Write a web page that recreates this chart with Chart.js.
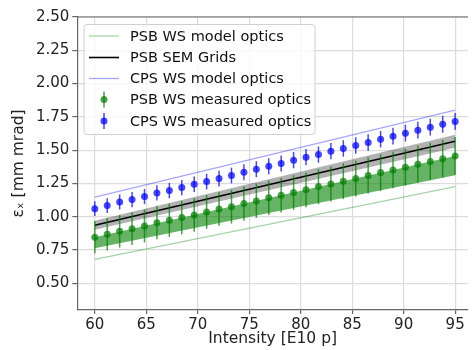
<!DOCTYPE html>
<html><head><meta charset="utf-8">
<script src="https://cdn.jsdelivr.net/npm/chart.js@4/dist/chart.umd.min.js"></script>
<style>html,body{margin:0;padding:0;background:#fff}canvas{display:block}</style>
</head><body>
<canvas id="c" width="472" height="350" style="width:472px;height:350px"></canvas>
<script>
// Intensity values of the measurement points [E10 p]
const intensity = [60, 61.207, 62.414, 63.621, 64.828, 66.034, 67.241, 68.448, 69.655, 70.862,
  72.069, 73.276, 74.483, 75.690, 76.897, 78.103, 79.310, 80.517, 81.724, 82.931,
  84.138, 85.345, 86.552, 87.759, 88.966, 90.172, 91.379, 92.586, 93.793, 95];
const psbMeasured = [0.846, 0.868, 0.891, 0.911, 0.931, 0.956, 0.974, 0.994, 1.014, 1.036,
  1.059, 1.076, 1.099, 1.119, 1.142, 1.162, 1.182, 1.202, 1.227, 1.247,
  1.267, 1.287, 1.310, 1.332, 1.352, 1.372, 1.395, 1.415, 1.435, 1.457];
const psbMeasuredErr = [0.122, 0.122, 0.123, 0.123, 0.124, 0.124, 0.125, 0.125, 0.126, 0.126,
  0.127, 0.127, 0.128, 0.128, 0.129, 0.129, 0.130, 0.131, 0.132, 0.133,
  0.134, 0.135, 0.136, 0.137, 0.137, 0.138, 0.139, 0.140, 0.141, 0.142];
const cpsMeasured = [1.061, 1.084, 1.111, 1.129, 1.152, 1.179, 1.197, 1.219, 1.244, 1.264,
  1.287, 1.310, 1.335, 1.357, 1.380, 1.400, 1.425, 1.447, 1.467, 1.492,
  1.513, 1.535, 1.558, 1.583, 1.605, 1.628, 1.650, 1.673, 1.695, 1.716];
const cpsMeasuredErr = [0.055, 0.056, 0.056, 0.057, 0.057, 0.057, 0.058, 0.058, 0.058, 0.059,
  0.059, 0.059, 0.060, 0.060, 0.060, 0.060, 0.061, 0.061, 0.061, 0.061,
  0.062, 0.062, 0.062, 0.062, 0.063, 0.063, 0.063, 0.063, 0.064, 0.064];
// Straight model / fit lines (end points)
const lineX = [60, 95];
const psbModel = [0.680, 1.227];
const cpsModel = [1.147, 1.801];
const semGrids = [0.936, 1.567];
const semUpper = [0.970, 1.615];
const semLower = [0.902, 1.518];
const psbBandTop = [0.846, 1.457];
const psbBandBottom = [0.763, 1.312];
// Axis ticks
const xTicks = [60, 65, 70, 75, 80, 85, 90, 95];
const yTicks = [0.50, 0.75, 1.00, 1.25, 1.50, 1.75, 2.00, 2.25, 2.50];
const legendLabels = ['PSB WS model optics', 'PSB SEM Grids', 'CPS WS model optics', 'PSB WS measured optics', 'CPS WS measured optics'];

const FONT = 'DejaVu Sans';
const pts = (xs, ys) => xs.map((x, i) => ({x: x, y: ys[i]}));

const errorBars = {
  id: 'errorBars',
  beforeDatasetDraw(chart, args) {
    const ds = chart.data.datasets[args.index];
    if (!ds.errors) return;
    const ctx = chart.ctx, xs = chart.scales.x, ys = chart.scales.y;
    ctx.save();
    ctx.strokeStyle = ds.errColor;
    ctx.lineWidth = 1.5;
    ds.data.forEach((p, i) => {
      const x = xs.getPixelForValue(p.x);
      ctx.beginPath();
      ctx.moveTo(x, ys.getPixelForValue(p.y - ds.errors[i]));
      ctx.lineTo(x, ys.getPixelForValue(p.y + ds.errors[i]));
      ctx.stroke();
    });
    ctx.restore();
  }
};

const frameAndLegend = {
  id: 'frameAndLegend',
  afterDraw(chart) {
    const ctx = chart.ctx, a = chart.chartArea;
    ctx.save();
    // top spine
    ctx.strokeStyle = '#666';
    ctx.lineWidth = 1.2;
    ctx.beginPath(); ctx.moveTo(a.left, a.top); ctx.lineTo(a.right, a.top); ctx.stroke();
    // legend box
    const bx = 84, by = 24.5, bw = 231, bh = 110, r = 3;
    ctx.beginPath();
    ctx.moveTo(bx + r, by); ctx.lineTo(bx + bw - r, by); ctx.arcTo(bx + bw, by, bx + bw, by + r, r);
    ctx.lineTo(bx + bw, by + bh - r); ctx.arcTo(bx + bw, by + bh, bx + bw - r, by + bh, r);
    ctx.lineTo(bx + r, by + bh); ctx.arcTo(bx, by + bh, bx, by + bh - r, r);
    ctx.lineTo(bx, by + r); ctx.arcTo(bx, by, bx + r, by, r);
    ctx.closePath();
    ctx.fillStyle = 'rgba(255,255,255,0.8)';
    ctx.fill();
    ctx.strokeStyle = '#d0d0d0';
    ctx.lineWidth = 1;
    ctx.stroke();
    const rows = [36, 57.5, 78.5, 99.5, 121];
    const styles = [
      {type: 'line', color: 'rgba(0,128,0,0.35)', w: 1.3},
      {type: 'line', color: '#000', w: 1.6},
      {type: 'line', color: 'rgba(0,0,255,0.35)', w: 1.3},
      {type: 'err', color: 'rgba(0,128,0,0.72)'},
      {type: 'err', color: 'rgba(0,0,255,0.72)'}
    ];
    rows.forEach((y, i) => {
      const s = styles[i];
      if (s.type === 'line') {
        ctx.strokeStyle = s.color; ctx.lineWidth = s.w;
        ctx.beginPath(); ctx.moveTo(89, y); ctx.lineTo(119, y); ctx.stroke();
      } else {
        ctx.strokeStyle = s.color; ctx.lineWidth = 1.5;
        ctx.beginPath(); ctx.moveTo(104, y - 8); ctx.lineTo(104, y + 8); ctx.stroke();
        ctx.fillStyle = s.color;
        ctx.beginPath(); ctx.arc(104, y, 3.5, 0, Math.PI * 2); ctx.fill();
      }
      ctx.fillStyle = '#111';
      ctx.font = '14.5px "' + FONT + '"';
      ctx.textBaseline = 'middle';
      ctx.textAlign = 'left';
      ctx.fillText(legendLabels[i], 130, y + 1);
    });
    ctx.restore();
  }
};

new Chart(document.getElementById('c'), {
  type: 'scatter',
  data: {
    datasets: [
      {label: legendLabels[4], data: pts(intensity, cpsMeasured), errors: cpsMeasuredErr,
        errColor: 'rgba(0,0,255,0.72)', backgroundColor: 'rgba(0,0,255,0.72)', borderWidth: 0,
        pointRadius: 3.5, showLine: false, order: 1},
      {label: legendLabels[3], data: pts(intensity, psbMeasured), errors: psbMeasuredErr,
        errColor: 'rgba(0,128,0,0.72)', backgroundColor: 'rgba(0,128,0,0.72)', borderWidth: 0,
        pointRadius: 3.5, showLine: false, order: 2},
      {label: legendLabels[2], data: pts(lineX, cpsModel), showLine: true, borderColor: 'rgba(0,0,255,0.35)',
        borderWidth: 1.3, pointRadius: 0, order: 3},
      {label: legendLabels[1], data: pts(lineX, semGrids), showLine: true, borderColor: '#000',
        borderWidth: 1.6, pointRadius: 0, order: 4},
      {label: legendLabels[0], data: pts(lineX, psbModel), showLine: true, borderColor: 'rgba(0,128,0,0.35)',
        borderWidth: 1.3, pointRadius: 0, order: 5},
      {label: 'SEM upper', data: pts(lineX, semUpper), showLine: true, borderWidth: 0, pointRadius: 0,
        fill: '+1', backgroundColor: 'rgba(0,0,0,0.3)', order: 6},
      {label: 'SEM lower', data: pts(lineX, semLower), showLine: true, borderWidth: 0, pointRadius: 0,
        fill: false, order: 7},
      {label: 'PSB band top', data: pts(lineX, psbBandTop), showLine: true, borderWidth: 0, pointRadius: 0,
        fill: '+1', backgroundColor: 'rgba(0,128,0,0.6)', order: 8},
      {label: 'PSB band bottom', data: pts(lineX, psbBandBottom), showLine: true, borderWidth: 0, pointRadius: 0,
        fill: false, order: 9}
    ]
  },
  options: {
    animation: false, responsive: false, devicePixelRatio: 1,
    layout: {padding: {top: 17, left: 0, right: 0, bottom: 0}},
    plugins: {legend: {display: false}, tooltip: {enabled: false}},
    scales: {
      x: {
        type: 'linear', min: 58.3, max: 96.25,
        afterBuildTicks: s => { s.ticks = xTicks.map(v => ({value: v})); },
        afterFit: s => { s.height = 40; },
        grid: {color: '#dcdcdc', lineWidth: 1.2, tickLength: 4, tickColor: '#666'},
        border: {color: '#666', width: 1.2},
        ticks: {font: {family: FONT, size: 15}, color: '#222', padding: 2, maxRotation: 0,
          callback: v => String(v)},
        title: {display: true, text: 'Intensity [E10 p]', font: {family: FONT, size: 15.5}, color: '#222',
          padding: {top: 0, bottom: 2}}
      },
      y: {
        type: 'linear', min: 0.3, max: 2.5,
        afterBuildTicks: s => { s.ticks = yTicks.map(v => ({value: v})); },
        afterFit: s => { s.width = 77.3; },
        grid: {color: '#dcdcdc', lineWidth: 1.2, tickLength: 5, tickColor: '#666'},
        border: {color: '#666', width: 1.2},
        ticks: {font: {family: FONT, size: 15}, color: '#222', padding: 3,
          callback: v => Number(v).toFixed(2)},
        title: {display: true, text: 'εₓ [mm mrad]', font: {family: FONT, size: 15.5}, color: '#222',
          padding: {top: 10, bottom: 0}}
      }
    }
  },
  plugins: [errorBars, frameAndLegend]
});
</script>
</body></html>
